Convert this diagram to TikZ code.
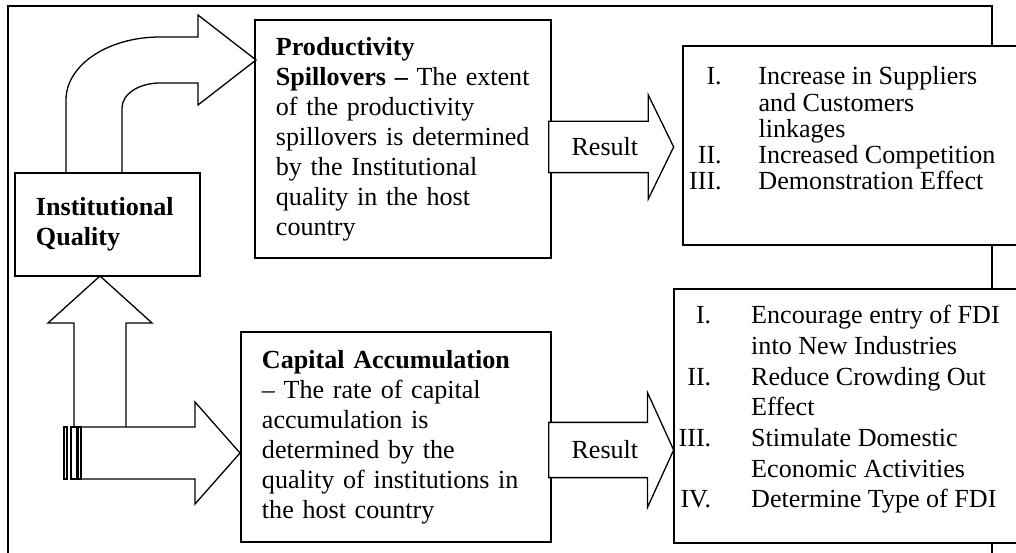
\documentclass[tikz,border=0pt]{standalone}
\usepackage{fontspec}
\setmainfont{Liberation Serif}
\usetikzlibrary{shapes.arrows,positioning}

\tikzset{
	box/.style={draw, line width=0.8pt, fill=white, align=left, inner xsep=9.66pt, inner ysep=0pt, font=\fontsize{12}{13.8}\selectfont},
	listbox/.style={draw, line width=0.8pt, fill=white, inner sep=0pt, anchor=north west},
	resarrow/.style={single arrow, draw, line width=0.6pt, fill=white, anchor=tail, inner xsep=0pt, text height=8.2pt, text depth=0pt, font=\fontsize{12}{13.8}\selectfont},
	blockarrow/.style={draw, line width=0.6pt, line join=miter}
}

\begin{document}
\begin{tikzpicture}[x=0.46pt, y=-0.46pt]
		
		\useasboundingbox (0,0) rectangle (1016,553);
		\clip (0,0) rectangle (1016,553);
		
		\draw[line width=0.9pt] (8,6) rectangle (992,600);
		
		
		\node (instq) at (107.5,224.5)[box, minimum width=85.1pt, text width=65.8pt, minimum height=47.4pt] {\textbf{Institutional}\\\textbf{Quality}};
		
		\node (prod) at (403,139)[box, minimum width=136.2pt, text width=116.9pt, minimum height=109.5pt] {\textbf{Productivity}\\\textbf{Spillovers –} The extent\\of the productivity\\spillovers is determined\\by the Institutional\\quality in the host\\country};
		
		\node (capacc) at (396,437)[box, minimum width=142.6pt, text width=123.3pt, minimum height=96.6pt] {\textbf{Capital Accumulation}\\– The rate of capital\\accumulation is\\determined by the\\quality of institutions in\\the host country};
		
		
		\node (gainsA) at (682,45)[listbox, font=\fontsize{12}{12}\selectfont] {\parbox[c][91.5pt][t]{160pt}{\vspace*{9.6pt}\hspace*{2.9pt}\begin{tabular}{@{}r@{\hspace{16.9pt}}l@{}}
					I. & Increase in Suppliers\\
					& and Customers\\
					& linkages\\
					II. & Increased Competition\\
					III. & Demonstration Effect
			\end{tabular}}};
		
		\node (gainsB) at (673,288)[listbox, font=\fontsize{12}{14.1}\selectfont] {\parbox[c][116.8pt][t]{164.2pt}{\vspace*{6.2pt}\hspace*{2.2pt}\begin{tabular}{@{}r@{\hspace{18.4pt}}l@{}}
					I. & Encourage entry of FDI\\
					& into New Industries\\
					II. & Reduce Crowding Out\\
					& Effect\\
					III. & Stimulate Domestic\\
					& Economic Activities\\
					IV. & Determine Type of FDI
			\end{tabular}}};
		
		
		\node (res1) at (548,147)[resarrow, inner ysep=7.4pt, minimum height=57.5pt, minimum width=47.4pt, single arrow head extend=12.2pt, single arrow tip angle=128] {Result};
		\node (res2) at (548,450)[resarrow, inner ysep=8.3pt, minimum height=57.5pt, minimum width=52.4pt, single arrow head extend=13.8pt, single arrow tip angle=131] {Result};
		
		
		\draw[blockarrow] (66,173) -- (66,100) .. controls (66,65) and (108,37) .. (160,37) -- (198,37) -- (198,15) -- (256,60) -- (198,105) -- (198,83) -- (160,83) .. controls (139,83) and (122,94) .. (122,108) -- (122,173);
		
		\draw[blockarrow] (74,427) -- (74,323) -- (48,323) -- (100,276) -- (152,323) -- (126,323) -- (126,427);
		
		\draw[blockarrow] (81,427) -- (195,427) -- (195,402) -- (240,453) -- (195,504) -- (195,479) -- (81,479) -- cycle;
		\draw[blockarrow] (64,427) rectangle (67,479);
		\draw[blockarrow] (71,427) rectangle (77,479);
		\draw[blockarrow] (78,427) rectangle (81,479);
		
	\end{tikzpicture}
\end{document}
